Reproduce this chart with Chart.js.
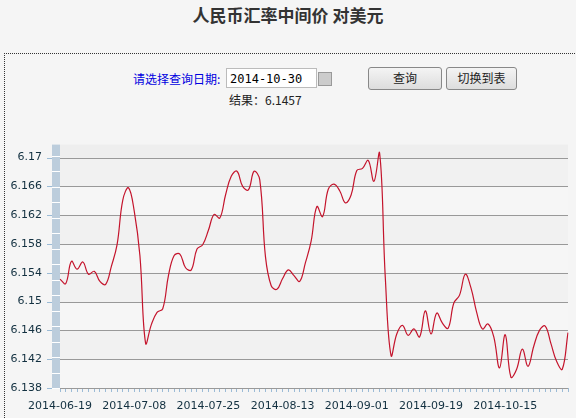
<!DOCTYPE html>
<html><head><meta charset="utf-8">
<script src="https://cdn.jsdelivr.net/npm/chart.js@4"></script>
<style>
body{margin:0;background:#f5f5f5;font-family:"Noto Sans CJK SC",sans-serif;width:576px;height:418px;overflow:hidden;position:relative}
#title{position:absolute;top:2px;left:0;width:576px;text-align:center;font-size:17px;font-weight:bold;color:#333}
#box{position:absolute;left:4px;top:53px;width:600px;height:400px;border-top:1px dotted #333;border-left:1px dotted #333}
.lbl{position:absolute;left:133px;top:70px;font-size:12px;color:#0000e0}
#inp{position:absolute;left:226px;top:68px;height:20px;border:1px solid #bbb;background:#fff;font:12px "DejaVu Sans Mono",monospace;line-height:20px;padding-left:3px;box-sizing:border-box;width:91px}
#cal{position:absolute;left:318px;top:72px;width:12px;height:12px;background:#ccc;border:1px solid #999}
.btn{position:absolute;top:67px;height:21px;border:1px solid #888;border-radius:3px;background:linear-gradient(#f4f4f4,#ddd);font-size:12px;text-align:center;line-height:20px;color:#222}
#res{position:absolute;left:229px;top:91px;font-size:12px;color:#222}
#c{position:absolute;left:0;top:120px}
</style></head><body>
<div id="title">人民币汇率中间价 对美元</div>
<div id="box"></div>
<div class="lbl">请选择查询日期:</div>
<div id="inp">2014-10-30</div>
<div id="cal"></div>
<div class="btn" style="left:368px;width:72px">查询</div>
<div class="btn" style="left:446px;width:69px">切换到表</div>
<div id="res">结果：6.1457</div>
<canvas id="c" width="576" height="298"></canvas>
<script>
var values = [
  6.1531, 6.1525, 6.1556, 6.1545, 6.1555, 6.1538, 6.1542, 6.1528, 6.1524, 6.1549,
  6.1579, 6.1641, 6.1658, 6.1626, 6.1564, 6.1442, 6.1468, 6.1485, 6.1490, 6.1536,
  6.1564, 6.1566, 6.1547, 6.1544, 6.1573, 6.1579, 6.1599, 6.1621, 6.1616, 6.1648,
  6.1674, 6.1681, 6.1660, 6.1655, 6.1681, 6.1669, 6.1562, 6.1522, 6.1517, 6.1532,
  6.1544, 6.1536, 6.1528, 6.1554, 6.1584, 6.1632, 6.1618, 6.1656, 6.1663, 6.1654,
  6.1637, 6.1648, 6.1682, 6.1685, 6.1696, 6.1667, 6.1706, 6.1532, 6.1425, 6.1455,
  6.1467, 6.1453, 6.1462, 6.1451, 6.1487, 6.1455, 6.1484, 6.1470, 6.1463, 6.1498,
  6.1509, 6.1538, 6.1519, 6.1485, 6.1462, 6.1469, 6.1451, 6.1408, 6.1454, 6.1395,
  6.1406, 6.1434, 6.1410, 6.1438, 6.1460, 6.1466, 6.1442, 6.1417, 6.1406, 6.1457
];
var dateTicks = ['2014-06-19', '2014-07-08', '2014-07-25', '2014-08-13', '2014-09-01', '2014-09-19', '2014-10-15'];
var yTicks = [6.138, 6.142, 6.146, 6.15, 6.154, 6.158, 6.162, 6.166, 6.17];
var labelEvery = 13;

var labels = values.map(function(v, i) { return i; });

// shaded bands + blue strip on the left of the plot
var bands = {
    id: 'bands',
    beforeDatasetsDraw: function(chart) {
        var ctx = chart.ctx, a = chart.chartArea, y = chart.scales.y;
        ctx.save();
        ctx.fillStyle = '#eeeeee';
        ctx.fillRect(a.left, a.top, a.right - a.left, a.bottom - a.top);
        for (var i = 0; i < yTicks.length - 1; i++) {
            ctx.fillStyle = i % 2 ? '#f1f1f1' : '#f6f6f6';
            var y0 = y.getPixelForValue(yTicks[i + 1]), y1 = y.getPixelForValue(yTicks[i]);
            ctx.fillRect(a.left, y0, a.right - a.left, y1 - y0);
        }
        ctx.fillStyle = '#bccddc';
        ctx.fillRect(a.left - 8, a.top, 8, a.bottom - a.top);
        ctx.strokeStyle = '#ffffff';
        ctx.lineWidth = 1;
        for (var p = a.bottom; p > a.top; p -= 15.5) {
            ctx.beginPath();
            ctx.moveTo(a.left - 8, Math.round(p) + 0.5);
            ctx.lineTo(a.left, Math.round(p) + 0.5);
            ctx.stroke();
        }
        yTicks.forEach(function(t) {
            var py = Math.round(y.getPixelForValue(t)) + 0.5;
            ctx.strokeStyle = '#999';
            ctx.beginPath(); ctx.moveTo(a.left, py); ctx.lineTo(a.right, py); ctx.stroke();
            ctx.strokeStyle = '#9bbbd6';
            ctx.beginPath(); ctx.moveTo(a.left - 13, py); ctx.lineTo(a.left - 8, py); ctx.stroke();
        });
        ctx.restore();
    }
};

new Chart(document.getElementById('c'), {
    type: 'line',
    data: {
        labels: labels,
        datasets: [{
            data: values,
            borderColor: '#c4142c',
            borderWidth: 1.2,
            pointRadius: 0,
            tension: 0.4,
            fill: false
        }]
    },
    options: {
        responsive: false,
        animation: false,
        layout: {padding: {top: 5, right: 6, left: 0, bottom: 0}},
        plugins: {legend: {display: false}, tooltip: {enabled: false}},
        scales: {
            x: {
                type: 'category',
                offset: false,
                grid: {drawOnChartArea: false, drawTicks: true, tickLength: 4, color: '#9bbbd6'},
                border: {display: false},
                ticks: {
                    autoSkip: false, maxRotation: 0, padding: 8,
                    color: '#123040', font: {size: 11, family: 'DejaVu Sans'},
                    callback: function(v, i) {
                        return i % labelEvery === 0 ? dateTicks[i / labelEvery] : '';
                    }
                },
                afterFit: function(s) { s.height = 30; }
            },
            y: {
                min: 6.138, max: 6.1718,
                afterBuildTicks: function(s) { s.ticks = yTicks.map(function(t) { return {value: t}; }); },
                grid: {display: false, drawTicks: false},
                border: {display: false},
                ticks: {
                    color: '#123040', font: {size: 11, family: 'DejaVu Sans'}, padding: 18,
                    callback: function(v) { return String(parseFloat(v.toFixed(3))); }
                },
                afterFit: function(s) { s.width = 60; }
            }
        }
    },
    plugins: [bands]
});
</script>
</body></html>
